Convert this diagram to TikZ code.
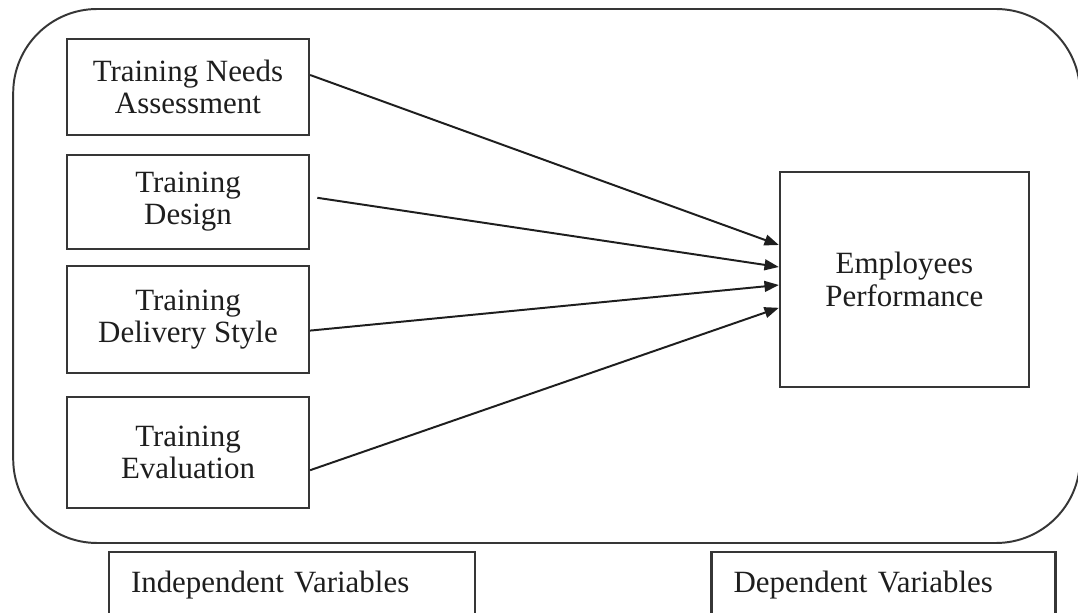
\documentclass[tikz,border=0pt]{standalone}
\usepackage{fontspec}
\setmainfont{Liberation Serif}
\usetikzlibrary{arrows.meta, positioning}
\definecolor{c1}{HTML}{1E1E1E}
\definecolor{c2}{HTML}{363636}

\begin{document}
\begin{tikzpicture}[
    every node/.style={font=\fontsize{22}{23}\selectfont, text=c1},
    var/.style={rectangle, draw=c2, fill=white, line width=1.6pt, align=center,
        minimum width=6.05cm, inner sep=0pt},
    legend/.style={rectangle, draw=c2, line width=1.6pt, align=left,
        minimum height=1.65cm, inner xsep=0.55cm, inner ysep=0pt},
    frame/.style={draw=c2, line width=1.4pt, rounded corners=2.1cm},
    link/.style={c1, line width=1.4pt, -{Triangle[length=0.36cm, width=0.27cm]}},
]
\useasboundingbox (0,0) rectangle (26.95,15.325);

% the rounded frame round the model
\draw[frame] (0.33,1.75) rectangle (27.00,15.10);

% ============================================================ independent variables
\node[var, minimum height=2.40cm] (needs) at (4.70,13.15) {Training Needs\\Assessment};
\node[var, minimum height=2.35cm] (design) at (4.70,10.28) {Training\\Design};
\node[var, minimum height=2.68cm] (delivery) at (4.70,7.34) {Training\\Delivery Style};
\node[var, minimum height=2.78cm] (evaluation) at (4.70,4.01) {Training\\Evaluation};

% ============================================================ dependent variable
\node[var, minimum width=6.22cm, minimum height=5.38cm] (perf) at (22.61,8.34)
    {Employees\\Performance};

% ============================================================ links
\draw[link] ([yshift=0.30cm]needs.east) -- ([yshift=0.86cm]perf.west);
\draw[link] ([xshift=0.18cm, yshift=0.10cm]design.east) -- ([yshift=0.31cm]perf.west);
\draw[link] ([yshift=-0.28cm]delivery.east) -- ([yshift=-0.14cm]perf.west);
\draw[link] ([yshift=-0.44cm]evaluation.east) -- ([yshift=-0.71cm]perf.west);

% ============================================================ legend
\node[legend, text width=8.05cm] (indep) at (7.30,0.70) {Independent Variables};
\node[legend, text width=7.50cm] (dep) at (22.09,0.70) {Dependent Variables};

\end{tikzpicture}
\end{document}
